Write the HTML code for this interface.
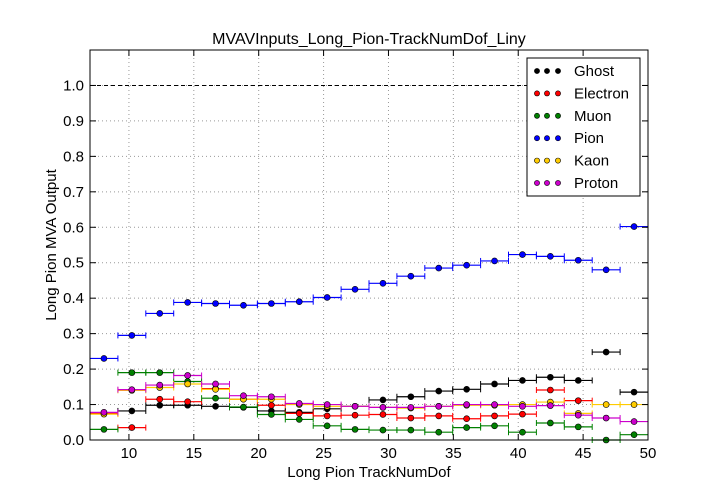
<!DOCTYPE html>
<html><head><meta charset="utf-8"><style>
body{margin:0;background:#fff;}
svg{display:block;font-family:"Liberation Sans",sans-serif;}
</style></head><body>
<svg id="c" width="720" height="504"></svg>
<script>
const xTicks=[10,15,20,25,30,35,40,45,50];
const yTicks=[0.0,0.1,0.2,0.3,0.4,0.5,0.6,0.7,0.8,0.9,1.0];
const seriesNames=["Ghost","Electron","Muon","Pion","Kaon","Proton"];
const seriesColors=["#000000","#ff0000","#008000","#0000ff","#ffcc00","#cc00cc"];
const binLo=7, binHi=50, nBins=20;
const ghost=[.077,.082,.098,.098,.095,.092,.082,.078,.088,.095,.113,.122,.138,.143,.158,.168,.177,.168,.248,.135];
const electron=[.075,.035,.115,.108,.145,.115,.098,.075,.068,.07,.072,.062,.068,.06,.068,.073,.141,.111,null,null];
const muon=[.03,.19,.19,.165,.118,.093,.072,.058,.04,.03,.028,.028,.022,.035,.04,.022,.048,.037,0.0,.015];
const pion=[.23,.295,.357,.388,.385,.38,.385,.39,.402,.425,.442,.462,.485,.493,.505,.523,.518,.507,.48,.602];
const kaon=[.073,.14,.148,.158,.143,.115,.115,.1,.095,.095,.092,.09,.095,.098,.098,.1,.107,.075,.1,.1];
const proton=[.078,.142,.155,.182,.158,.125,.122,.103,.1,.095,.092,.092,.095,.1,.1,.095,.097,.07,.062,.052];
const allSeries=[ghost,electron,muon,pion,kaon,proton];

const L=90,R=648,T=50,B=440,xmin=7,xmax=50,ymin=0,ymax=1.1;
const X=v=>L+(v-xmin)/(xmax-xmin)*(R-L);
const Y=v=>B-(v-ymin)/(ymax-ymin)*(B-T);
const svg=document.getElementById('c');
const NS="http://www.w3.org/2000/svg";
function mk(tag,attrs,parent){const e=document.createElementNS(NS,tag);for(const k in attrs)e.setAttribute(k,attrs[k]);(parent||svg).appendChild(e);return e;}

// grid
xTicks.forEach(t=>{
 const l=mk('line',{x1:X(t),x2:X(t),y1:T,y2:B,stroke:'#999','stroke-dasharray':'1,3'});
 
 
});
yTicks.forEach(t=>{
 const l=mk('line',{x1:L,x2:R,y1:Y(t),y2:Y(t),stroke:'#999','stroke-dasharray':'1,3'});
 
 
});
const ref=mk('line',{x1:L,x2:R,y1:Y(1),y2:Y(1),stroke:'#000','stroke-dasharray':'4,3'});



// series
const bw=(binHi-binLo)/nBins;
allSeries.forEach((s,si)=>{
 const g=mk('g',{});
 
 
 const col=seriesColors[si];
 s.forEach((v,i)=>{
  if(v===null)return;
  const x0=X(binLo+i*bw),x1=X(binLo+(i+1)*bw),xc=X(binLo+(i+0.5)*bw),y=Y(v);
  mk('line',{x1:x0,x2:x1,y1:y,y2:y,stroke:col,'stroke-width':1.2},g);
  mk('line',{x1:x0,x2:x0,y1:y-3,y2:y+3,stroke:col},g);
  mk('line',{x1:x1,x2:x1,y1:y-3,y2:y+3,stroke:col},g);
  const c=mk('circle',{cx:xc,cy:y,r:3,fill:col,stroke:'#000','stroke-width':0.6},g);
  
  
 });
});

// frame
const fr=mk('rect',{x:L,y:T,width:R-L,height:B-T,fill:'none',stroke:'#000'});


xTicks.forEach(t=>{
 mk('line',{x1:X(t),x2:X(t),y1:B,y2:B-6,stroke:'#000'});
 mk('line',{x1:X(t),x2:X(t),y1:T,y2:T+6,stroke:'#000'});
 const tx=mk('text',{x:X(t),y:B+18,'text-anchor':'middle','font-size':15});
 tx.textContent=t;
 
 
});
yTicks.forEach(t=>{
 mk('line',{x1:L,x2:L+6,y1:Y(t),y2:Y(t),stroke:'#000'});
 mk('line',{x1:R,x2:R-6,y1:Y(t),y2:Y(t),stroke:'#000'});
 const tx=mk('text',{x:L-6,y:Y(t)+5,'text-anchor':'end','font-size':15});
 tx.textContent=t.toFixed(1);
 
 
});
const ti=mk('text',{x:(L+R)/2,y:T-6,'text-anchor':'middle','font-size':16});
ti.textContent='MVAVInputs_Long_Pion-TrackNumDof_Liny';


const xl=mk('text',{x:(L+R)/2,y:477,'text-anchor':'middle','font-size':15});
xl.textContent='Long Pion TrackNumDof';


const yl=mk('text',{x:0,y:0,'text-anchor':'middle','font-size':15,transform:'translate(56,245) rotate(-90)'});
yl.textContent='Long Pion MVA Output';



// legend
const lg=mk('g',{});


mk('rect',{x:527,y:58,width:113,height:138,fill:'#fff',stroke:'#000'},lg);
seriesNames.forEach((n,i)=>{
 const y=71+i*22.4;
 const e=mk('g',{},lg);
 
 
 [537,547,558].forEach(x=>mk('circle',{cx:x,cy:y,r:2.6,fill:seriesColors[i],stroke:'#000','stroke-width':0.6},e));
 const t=mk('text',{x:574,y:y+5,'font-size':15},e);
 t.textContent=n;
});
</script>
</body></html>
